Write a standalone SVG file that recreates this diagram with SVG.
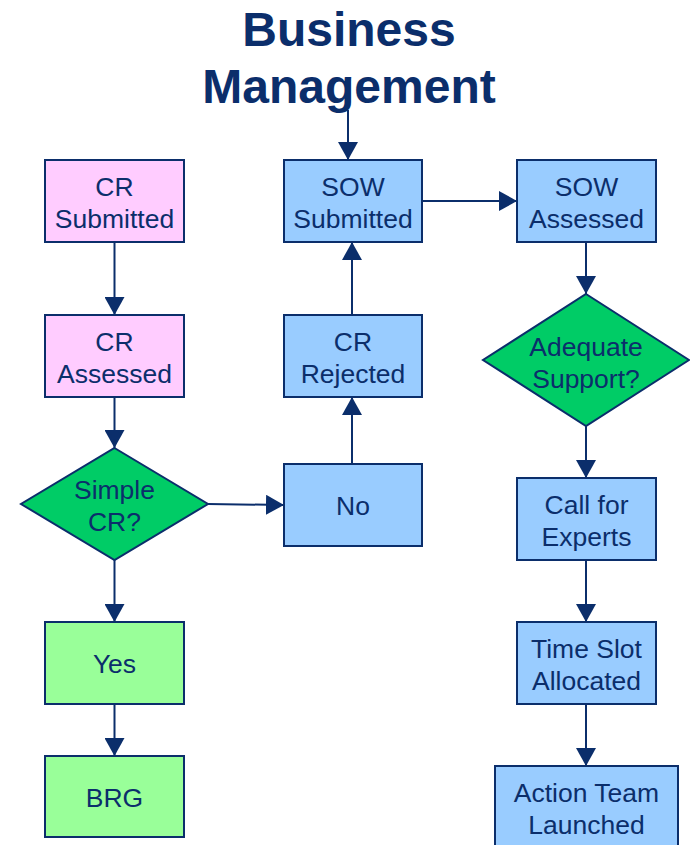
<svg xmlns="http://www.w3.org/2000/svg" width="690" height="845" viewBox="0 0 690 845">
<style>
.box{stroke:#0B2E6B;stroke-width:2}
.pink{fill:#FFCCFF}.blue{fill:#99CCFF}.lg{fill:#99FF99}.dg{fill:#00CC66}
.t{font-family:"Liberation Sans",Arial,sans-serif;font-size:26.5px;fill:#0B2E6B;text-anchor:middle}
.title{font-family:"Liberation Sans",Arial,sans-serif;font-size:48px;font-weight:bold;fill:#0B2E6B;text-anchor:middle}
.c{stroke:#0B2E6B;stroke-width:2;fill:none;marker-end:url(#ah)}
</style>
<defs>
<marker id="ah" markerWidth="20" markerHeight="20" refX="18" refY="10" orient="auto" markerUnits="userSpaceOnUse" viewBox="0 0 20 20">
<path d="M0,0 L18,10 L0,20 Z" fill="#0B2E6B"/>
</marker>
</defs>
<rect width="690" height="845" fill="#FFFFFF"/>
<g id="title">
<text class="title" x="349" y="46">Business</text>
<text class="title" x="349" y="103">Management</text>
</g>
<g id="connectors">
<line class="c" x1="348" y1="110" x2="348" y2="160"/>
<line class="c" x1="114.5" y1="242" x2="114.5" y2="315"/>
<line class="c" x1="114.5" y1="397" x2="114.5" y2="448"/>
<line class="c" x1="114.5" y1="560" x2="114.5" y2="622"/>
<line class="c" x1="114.5" y1="704" x2="114.5" y2="756"/>
<line class="c" x1="208" y1="504" x2="284" y2="505"/>
<line class="c" x1="352" y1="464" x2="352" y2="397"/>
<line class="c" x1="352" y1="315" x2="352" y2="242"/>
<line class="c" x1="422" y1="201" x2="517" y2="201"/>
<line class="c" x1="586" y1="242" x2="586" y2="294"/>
<line class="c" x1="586" y1="426" x2="586" y2="478"/>
<line class="c" x1="586" y1="560" x2="586" y2="622"/>
<line class="c" x1="586" y1="704" x2="586" y2="766"/>
</g>
<g id="cr-submitted">
<rect class="box pink" x="45" y="160" width="139" height="82"/>
<text class="t" x="114.5" y="196">CR</text>
<text class="t" x="114.5" y="228">Submitted</text>
</g>
<g id="cr-assessed">
<rect class="box pink" x="45" y="315" width="139" height="82"/>
<text class="t" x="114.5" y="351">CR</text>
<text class="t" x="114.5" y="383">Assessed</text>
</g>
<g id="simple-cr">
<polygon class="box dg" points="114.5,448 208,504 114.5,560 21,504"/>
<text class="t" x="114.5" y="499">Simple</text>
<text class="t" x="114.5" y="531">CR?</text>
</g>
<g id="yes">
<rect class="box lg" x="45" y="622" width="139" height="82"/>
<text class="t" x="114.5" y="673">Yes</text>
</g>
<g id="brg">
<rect class="box lg" x="45" y="756" width="139" height="81"/>
<text class="t" x="114.5" y="807">BRG</text>
</g>
<g id="sow-submitted">
<rect class="box blue" x="284" y="160" width="138" height="82"/>
<text class="t" x="353" y="196">SOW</text>
<text class="t" x="353" y="228">Submitted</text>
</g>
<g id="cr-rejected">
<rect class="box blue" x="284" y="315" width="138" height="82"/>
<text class="t" x="353" y="351">CR</text>
<text class="t" x="353" y="383">Rejected</text>
</g>
<g id="no">
<rect class="box blue" x="284" y="464" width="138" height="82"/>
<text class="t" x="353" y="515">No</text>
</g>
<g id="sow-assessed">
<rect class="box blue" x="517" y="160" width="139" height="82"/>
<text class="t" x="586.5" y="196">SOW</text>
<text class="t" x="586.5" y="228">Assessed</text>
</g>
<g id="adequate-support">
<polygon class="box dg" points="586,294 689,360 586,426 483,360"/>
<text class="t" x="586" y="356">Adequate</text>
<text class="t" x="586" y="388">Support?</text>
</g>
<g id="call-for-experts">
<rect class="box blue" x="517" y="478" width="139" height="82"/>
<text class="t" x="586.5" y="514">Call for</text>
<text class="t" x="586.5" y="546">Experts</text>
</g>
<g id="time-slot">
<rect class="box blue" x="517" y="622" width="139" height="82"/>
<text class="t" x="586.5" y="658">Time Slot</text>
<text class="t" x="586.5" y="690">Allocated</text>
</g>
<g id="action-team">
<rect class="box blue" x="495" y="766" width="183" height="90"/>
<text class="t" x="586.5" y="802">Action Team</text>
<text class="t" x="586.5" y="834">Launched</text>
</g>
</svg>
